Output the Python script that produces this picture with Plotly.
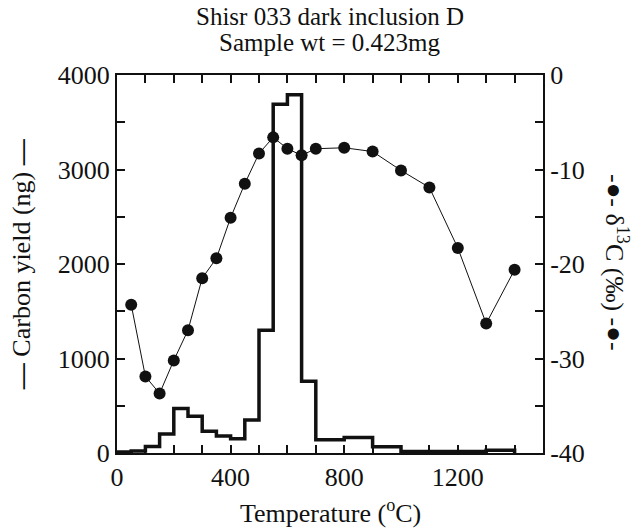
import plotly.graph_objects as go

# Stepped-combustion carbon release (ng) per temperature step
bin_edges = [0, 50, 100, 150, 200, 250, 300, 350, 400, 450, 500, 550, 600, 650,
             700, 800, 900, 1000, 1100, 1200, 1300, 1400]
carbon_yield = [10, 20, 70, 200, 470, 390, 230, 180, 150, 350, 1300, 3690, 3790,
                760, 140, 165, 65, 15, 15, 15, 30]

# Carbon isotope composition at each step
step_temp = [50, 100, 150, 200, 250, 300, 350, 400, 450, 500, 550, 600, 650, 700,
             800, 900, 1000, 1100, 1200, 1300, 1400]
delta13c = [-24.3, -31.9, -33.7, -30.2, -27.0, -21.5, -19.4, -15.1, -11.5, -8.3,
            -6.6, -7.8, -8.5, -7.8, -7.7, -8.1, -10.1, -11.9, -18.3, -26.3, -20.6]

# Right-axis labels use a plain hyphen for the minus sign
delta_ticks = [0, -10, -20, -30, -40]
delta_ticktext = ["0", "-10", "-20", "-30", "-40"]

FONT = "Liberation Serif, Times New Roman, serif"
INK = "#111111"
FS = 26
FS_TITLE = 25

fig = go.Figure()

# Histogram-style outline: each value held across its step, dropping to 0 at the end
fig.add_trace(go.Scatter(
    x=bin_edges,
    y=carbon_yield + [0],
    mode="lines",
    line=dict(shape="hv", color=INK, width=3.5),
    hoverinfo="skip",
    showlegend=False,
))

fig.add_trace(go.Scatter(
    x=step_temp,
    y=delta13c,
    yaxis="y2",
    mode="lines+markers",
    line=dict(color=INK, width=1),
    marker=dict(color=INK, size=12),
    showlegend=False,
))

axis_common = dict(
    showgrid=False,
    zeroline=False,
    showline=True,
    linecolor=INK,
    linewidth=2,
    ticks="inside",
    ticklen=8,
    tickwidth=1.5,
    tickcolor=INK,
    tickfont=dict(family=FONT, size=FS, color=INK),
)

fig.update_layout(
    width=641,
    height=528,
    margin=dict(l=117, r=98, t=75, b=75),
    paper_bgcolor="white",
    plot_bgcolor="white",
    font=dict(family=FONT, size=FS, color=INK),
    xaxis=dict(
        **axis_common,
        range=[0, 1500],
        tick0=0,
        dtick=400,
        mirror="allticks",
        minor=dict(dtick=100, ticks="inside", ticklen=8, tickwidth=1.5, tickcolor=INK),
    ),
    yaxis=dict(
        **axis_common,
        range=[0, 4000],
        tick0=0,
        dtick=1000,
        minor=dict(dtick=500, ticks="inside", ticklen=8, tickwidth=1.5, tickcolor=INK),
    ),
    yaxis2=dict(
        **axis_common,
        overlaying="y",
        side="right",
        range=[-40, 0],
        tickvals=delta_ticks,
        ticktext=delta_ticktext,
        minor=dict(dtick=5, ticks="inside", ticklen=8, tickwidth=1.5, tickcolor=INK),
    ),
)

annotations = [
    dict(text="Shisr 033 dark inclusion D", x=0.5, y=1.156, size=FS_TITLE),
    dict(text="Sample wt = 0.423mg", x=0.5, y=1.085, size=FS_TITLE),
    dict(text="Temperature (<sup>o</sup>C)", x=0.5, y=-0.156, size=FS),
    dict(text="<b>\u2014</b> Carbon yield (ng) <b>\u2014</b>", x=-0.225, y=0.5,
         textangle=-90, size=FS),
    dict(text="-\u25cf- \u03b4<sup>13</sup>C (\u2030) -\u25cf-", x=1.174, y=0.505,
         textangle=90, size=FS),
]
for a in annotations:
    size = a.pop("size")
    fig.add_annotation(
        xref="paper", yref="paper", showarrow=False,
        xanchor="center", yanchor="middle",
        font=dict(family=FONT, size=size, color=INK),
        **a,
    )

fig.write_html("out.html")
